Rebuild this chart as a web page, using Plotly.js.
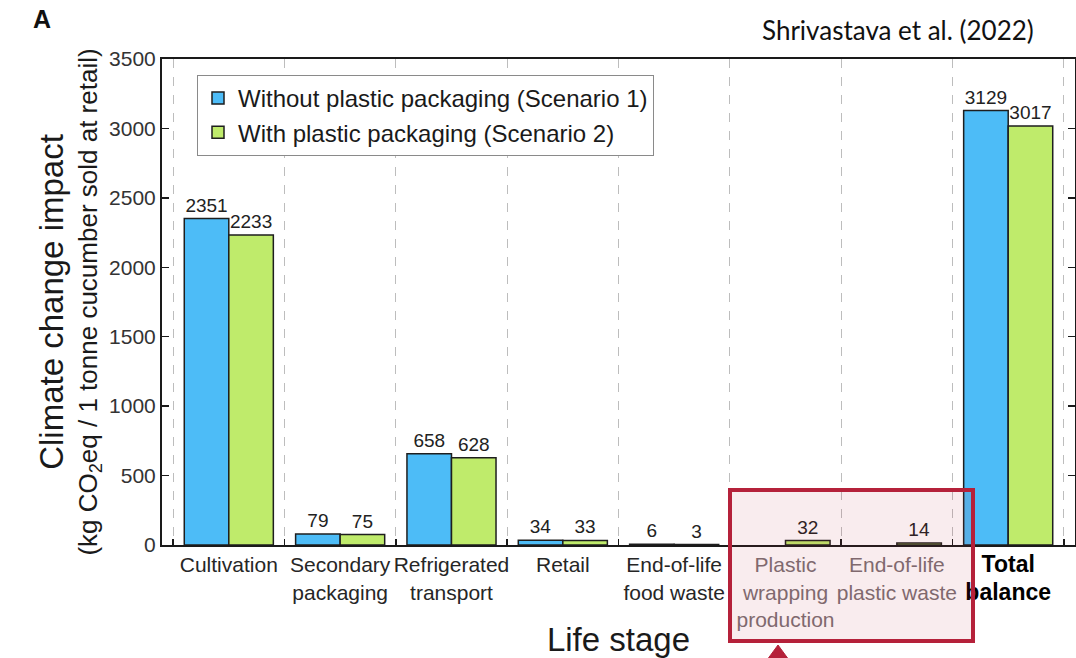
<!DOCTYPE html>
<html>
<head>
<meta charset="utf-8">
<script src="https://cdn.plot.ly/plotly-3.0.1.min.js"></script>
<style>html,body{margin:0;padding:0;background:#fff}#chart{width:1076px;height:658px}</style>
</head>
<body>
<div id="chart"></div>
<script>
// ---- Data ----
const categories = [
  "Cultivation",
  "Secondary<br>packaging",
  "Refrigerated<br>transport",
  "Retail",
  "End-of-life<br>food waste",
  "<span style='color:#7a6f73'>Plastic</span><br><span style='color:#7a6f73'>wrapping</span><br><span style='color:#7a6f73'>production</span>",
  "<span style='color:#7a6f73'>End-of-life</span><br><span style='color:#7a6f73'>plastic waste</span>",
  "<b style='font-size:23px;color:#000'>Total</b><br><b style='font-size:23px;color:#000'>balance</b>"
];
const withoutPlastic = [2351, 79, 658, 34, 6, null, null, 3129];
const withPlastic    = [2233, 75, 628, 33, 3, 32, 14, 3017];
const seriesNames = ["Without plastic packaging (Scenario 1)", "With plastic packaging (Scenario 2)"];
const yTicks = [0, 500, 1000, 1500, 2000, 2500, 3000, 3500];

// ---- Derived ----
const FONT = "'Liberation Sans', Arial, sans-serif";
const idx = categories.map((_, i) => i);
const boundaries = categories.map((_, i) => i - 0.5).concat([categories.length - 0.5]);
const lbl = v => (v === null ? "" : String(v));

// paper-coordinate helpers for the annotation overlay (pixel -> paper)
const L = 162, T = 59, W = 913, H = 486;
const px = p => (p - L) / W;
const py = p => (T + H - p) / H;

const barLine = {color: "#1e1e1e", width: 1.5};
const traces = [
  {type: "bar", name: seriesNames[0], x: idx, y: withoutPlastic,
   text: withoutPlastic.map(lbl), textposition: "outside", cliponaxis: false,
   textfont: {size: 19, color: "#222", family: FONT},
   marker: {color: "#4dbcf7", line: barLine}, hoverinfo: "skip"},
  {type: "bar", name: seriesNames[1], x: idx, y: withPlastic,
   text: withPlastic.map(lbl), textposition: "outside", cliponaxis: false,
   textfont: {size: 19, color: "#222", family: FONT},
   marker: {color: "#bfeb6b", line: barLine}, hoverinfo: "skip"}
];

const layout = {
  width: 1076, height: 658,
  margin: {l: L, r: 1076 - L - W, t: T, b: 658 - T - H},
  paper_bgcolor: "#fff", plot_bgcolor: "#fff",
  font: {family: FONT, color: "#262626"},
  barmode: "group", bargap: 0.2, bargroupgap: 0,
  showlegend: true,
  legend: {x: px(197), y: py(75), xanchor: "left", yanchor: "top",
           bordercolor: "#8a8a8a", borderwidth: 1, bgcolor: "#fff",
           font: {size: 24, color: "#1a1a1a", family: FONT}, traceorder: "normal"},
  xaxis: {
    range: [-0.6, 7.6], tickmode: "array", tickvals: idx, ticktext: categories,
    ticks: "", showgrid: false, zeroline: false,
    showline: true, linecolor: "#1a1a1a", linewidth: 2, mirror: true,
    tickfont: {size: 21, color: "#262626", family: FONT},
    minor: {tickmode: "array", tickvals: boundaries, ticks: "inside", ticklen: 6, tickwidth: 1.5,
            tickcolor: "#1a1a1a", showgrid: true, griddash: "dash", gridcolor: "#bdbdbd", gridwidth: 1},
    title: {text: "Life stage", font: {size: 33, color: "#1a1a1a", family: FONT}, standoff: 2}
  },
  yaxis: {
    range: [0, 3500], tickmode: "array", tickvals: yTicks,
    ticks: "inside", ticklen: 7, tickwidth: 1.5, tickcolor: "#1a1a1a",
    showgrid: false, zeroline: false,
    showline: true, linecolor: "#1a1a1a", linewidth: 2, mirror: "ticks",
    tickfont: {size: 21, color: "#333", family: FONT},
    title: {text: "<span style='font-size:33px'>Climate change impact</span><br>(kg CO<sub>2</sub>eq / 1 tonne cucumber sold at retail)",
            font: {size: 26, color: "#1a1a1a", family: FONT}, standoff: 4}
  },
  shapes: [
    {type: "rect", xref: "paper", yref: "paper", layer: "above",
     x0: px(730), x1: px(973), y0: py(641), y1: py(490),
     line: {color: "#b5213a", width: 4}, fillcolor: "rgba(190,40,70,0.09)"},
    {type: "path", xref: "paper", yref: "paper", layer: "above",
     path: `M ${px(778)} ${py(645)} L ${px(767)} ${py(660)} L ${px(789)} ${py(660)} Z`,
     line: {color: "#b5213a", width: 1}, fillcolor: "#b5213a"}
  ],
  annotations: [
    {text: "<b>A</b>", xref: "paper", yref: "paper", x: px(42), y: py(19),
     xanchor: "center", yanchor: "middle", showarrow: false,
     font: {size: 25, color: "#111", family: FONT}},
    {text: "Shrivastava et al. (2022)", xref: "paper", yref: "paper", x: px(1036), y: py(30),
     xanchor: "right", yanchor: "middle", showarrow: false,
     font: {size: 26, color: "#111", family: "Lato, Carlito, sans-serif"}}
  ]
};

Plotly.newPlot("chart", traces, layout, {staticPlot: true});
</script>
</body>
</html>
